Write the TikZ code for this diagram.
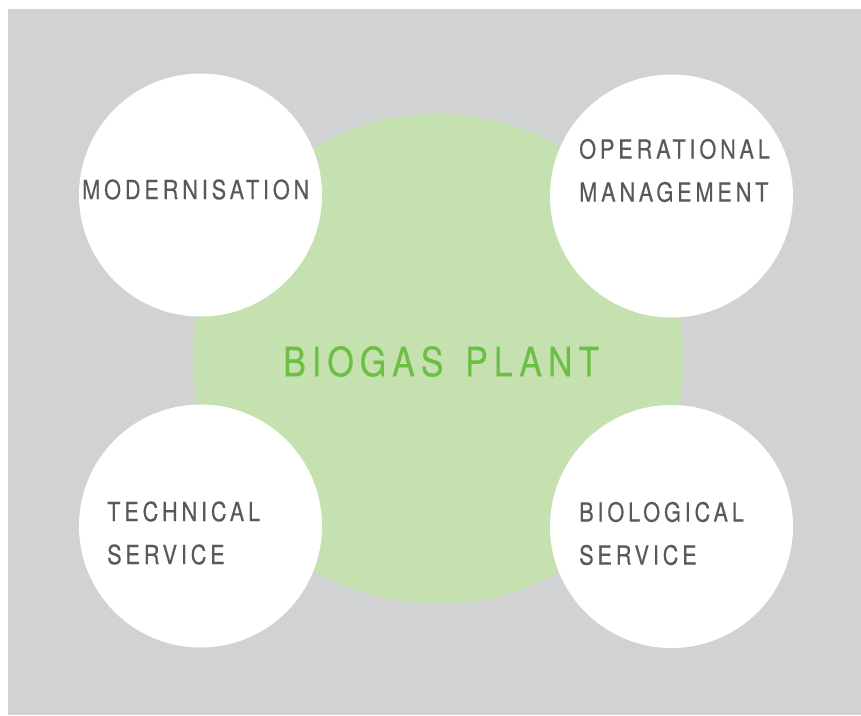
\documentclass[tikz,border=0pt]{standalone}
\usepackage{fontspec}
\newfontfamily\labelfont[FakeStretch=0.82,LetterSpace=14.5,FakeBold=0.3]{TeX Gyre Heros}
\newfontfamily\titlefont[FakeStretch=0.84,LetterSpace=15,WordSpace=1.4,FakeBold=0.3]{TeX Gyre Heros}
\usepackage{tikz}
\usetikzlibrary{positioning}
\definecolor{bggray}{HTML}{D1D2D4}
\definecolor{plantgreen}{HTML}{C5E1AF}
\definecolor{titlegreen}{HTML}{6DBE45}
\definecolor{labelgray}{HTML}{58595B}
\tikzset{topic/.style={circle, fill=white, minimum size=243pt, inner sep=0pt}}
\tikzset{topiclabel/.style={anchor=west, align=left, inner sep=0pt, text=labelgray, font=\labelfont\fontsize{26.5}{43}\selectfont}}

\begin{document}
\begin{tikzpicture}[x=1pt,y=-1pt]
	\useasboundingbox (0,0) rectangle (861,715);
	\fill [bggray] (8,9) rectangle (861,715);
	\node (plant) [circle, fill=plantgreen, minimum size=490pt, inner sep=0pt] at (438,359) {};
	\node (modern) [topic] at (200.5,195) {};
	\node (operat) [topic] at (671.5,196) {};
	\node (techn) [topic] at (200.5,526) {};
	\node (biolog) [topic] at (671.5,526.5) {};
	\node (plantlabel) [anchor=west, inner sep=0pt, text=titlegreen, font=\titlefont\fontsize{40.4}{48}\selectfont] at (283,361.5) {BIOGAS PLANT};
	\node (modernlabel) [topiclabel] at (82,189.5) {MODERNISATION};
	\node (operatlabel) [topiclabel] at (579,170.5) {OPERATIONAL\\MANAGEMENT};
	\node (technlabel) [topiclabel] at (107,533) {TECHNICAL\\SERVICE};
	\node (biologlabel) [topiclabel] at (579,533.5) {BIOLOGICAL\\SERVICE};
\end{tikzpicture}
\end{document}
